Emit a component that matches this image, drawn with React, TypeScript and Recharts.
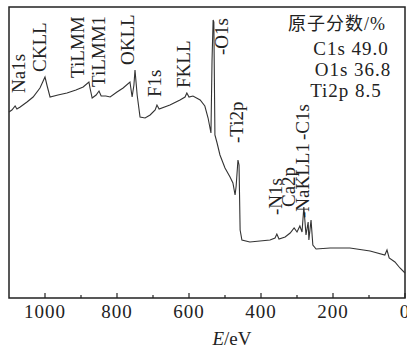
import { LineChart, Line, XAxis, YAxis, ReferenceArea, ReferenceDot } from 'recharts'

// binding energy (eV) and intensity (arbitrary units)
const energy = [
  1100, 1092, 1083, 1078, 1069, 1050, 1033, 1014, 1000, 994, 986, 964, 939, 914, 894, 878, 875, 869,
  858, 850, 844, 831, 819, 800, 783, 764, 758, 753, 750, 744, 736, 722, 708, 694, 689, 683, 653, 625,
  611, 606, 600, 589, 569, 556, 547, 539, 536, 533, 531, 528, 522, 514, 500, 486, 478, 472, 469, 464,
  461, 458, 453, 431, 403, 375, 361, 356, 350, 333, 319, 308, 300, 292, 286, 281, 275, 269, 267, 261,
  256, 247, 208, 153, 97, 56, 50, 44, 28, 14, 0,
]
const intensity = [
  185, 187, 191, 188, 190, 195, 200, 209, 220, 211, 200, 202, 204, 207, 210, 215, 209, 199,
  202, 206, 201, 201, 200, 205, 209, 215, 200, 212, 227, 202, 180, 179, 182, 187, 192, 188, 192, 197,
  200, 204, 200, 201, 197, 191, 179, 164, 237, 277, 275, 162, 154, 142, 129, 120, 114, 102, 111, 137,
  132, 67, 57, 55, 56, 57, 59, 63, 58, 60, 64, 69, 65, 71, 65, 90, 62, 75, 57, 77,
  52, 48, 49, 49, 46, 42, 47, 39, 35, 29, 24,
]

// peak labels: name, energy of the label, level where the label starts
const peakNames = ['Na1s', 'CKLL', 'TiLMM', 'TiLMM1', 'OKLL', 'F1s', 'FKLL', '-O1s', '-Ti2p', '-N1s', 'Ca2p', '-NaKLL1', '-C1s']
const peakEnergy = [1072, 1014, 908, 850, 769, 694, 614, 508, 467, 358, 322, 283, 283]
const peakLevel = [204, 225, 219, 210, 232, 200, 209, 242, 154, 82, 90, 79, 157]

const xTicks = [1000, 900, 800, 700, 600, 500, 400, 300, 200, 100, 0]

const fractionNames = ['C1s', 'O1s', 'Ti2p']
const fractionValues = ['49.0', '36.8', '8.5']

const data = energy.map((e, i) => ({ e, v: intensity[i] }))

const SERIF = '"Liberation Serif", "Times New Roman", serif'
const INK = '#222'

function Tick(props: any) {
  const { x, y, payload } = props
  const major = payload.value % 200 === 0
  return (
    <g>
      <line x1={x} x2={x} y1={y} y2={y - (major ? 5 : 3)} stroke={INK} strokeWidth={1.2} />
      {major && (
        <text x={x} y={y + 20} textAnchor="middle" fontFamily={SERIF} fontSize={19} letterSpacing={1} fill={INK}>
          {payload.value}
        </text>
      )}
    </g>
  )
}

const peakLabel = (text: string) => (props: any) => {
  const vb = props.viewBox
  const cx = vb.x + vb.width / 2 + 6
  const cy = vb.y + vb.height / 2
  return (
    <text x={cx} y={cy} transform={`rotate(-90 ${cx} ${cy})`} fontFamily={SERIF} fontSize={19} fill={INK}>
      {text}
    </text>
  )
}

const axisLabel = (props: any) => {
  const vb = props.viewBox
  return (
    <text x={vb.x + vb.width / 2 + 25} y={vb.y + 47} textAnchor="middle" fontFamily={SERIF} fontSize={19} fill={INK}>
      <tspan fontStyle="italic">E</tspan>/eV
    </text>
  )
}

export default function App() {
  return (
    <div style={{ position: 'absolute', left: 0, top: 0, width: 407, height: 351, background: '#fff' }}>
      <LineChart width={407} height={351} data={data} margin={{ top: 7, right: 2, bottom: 0, left: 9 }}>
        <XAxis
          dataKey="e"
          type="number"
          domain={[0, 1100]}
          reversed
          ticks={xTicks}
          interval={0}
          height={53}
          tickSize={0}
          tickMargin={0}
          axisLine={false}
          tickLine={false}
          tick={<Tick />}
          label={axisLabel}
        />
        <YAxis type="number" domain={[-1, 290]} hide />
        <ReferenceArea x1={0} x2={1100} y1={-1} y2={290} fill="none" stroke={INK} strokeWidth={1.5} />
        <Line type="linear" dataKey="v" stroke="#333" strokeWidth={1.1} dot={false} isAnimationActive={false} />
        {peakNames.map((n, i) => (
          <ReferenceDot key={n} x={peakEnergy[i]} y={peakLevel[i]} r={0.5} fill="none" stroke="none" label={peakLabel(n)} />
        ))}
      </LineChart>
      <svg width={407} height={351} style={{ position: 'absolute', left: 0, top: 0, pointerEvents: 'none' }}>
        <text x={288} y={30} fontFamily={'"Liberation Serif", "Noto Sans CJK SC", serif'} fontSize={18} letterSpacing={1} fill={INK}>
          原子分数/%
        </text>
        {fractionNames.map((n, i) => (
          <text key={n} x={[351, 353, 346][i]} y={[55, 76, 97][i]} textAnchor="middle" fontFamily={SERIF} fontSize={19} letterSpacing={1} fill={INK}>
            {n} {fractionValues[i]}
          </text>
        ))}
      </svg>
    </div>
  )
}
